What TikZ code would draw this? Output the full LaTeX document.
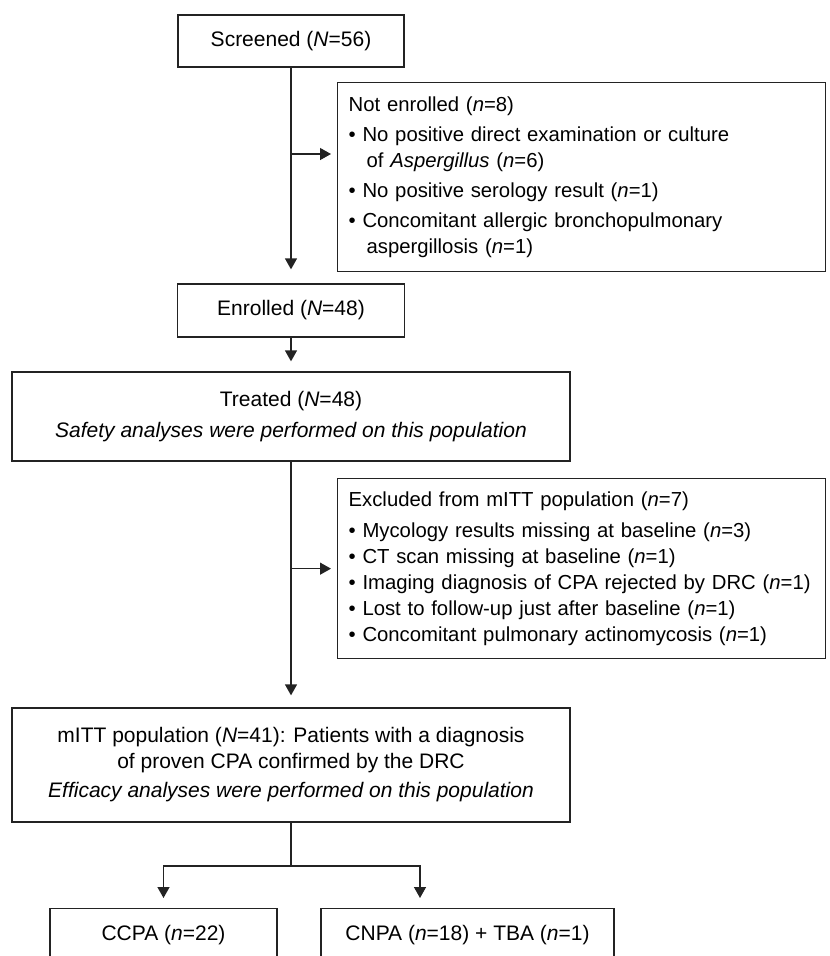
\documentclass[tikz,border=0pt]{standalone}
\usepackage{fontspec}
\setmainfont{Liberation Sans}
\usetikzlibrary{arrows.meta}
\definecolor{cline}{RGB}{35,35,35}
\tikzset{flowchart/.style={x=1pt,y=-1pt,font=\fontsize{21}{26}\selectfont},
  stagebox/.style={draw=cline,line width=1.3pt,inner sep=0pt,minimum height=52},
  notebox/.style={draw=cline,line width=1.3pt,anchor=north west,align=left,inner xsep=11pt,inner ysep=0pt,
    text width=466,font=\fontsize{20.3}{26}\selectfont},
  link/.style={cline,line width=1.3pt},
  flow/.style={link,-{Triangle[length=11pt,width=12pt]}}}

\begin{document}
\begin{tikzpicture}[flowchart]
    \useasboundingbox (0,0) rectangle (830,956);
    \clip (0,0) rectangle (830,956);
    \node[stagebox,minimum width=226] (screened) at (291,41) {Screened (\textit{N}=56)};
    \node[stagebox,minimum width=227,minimum height=53] (enrolled) at (291,310.5) {Enrolled (\textit{N}=48)};
    \node[stagebox,minimum width=558,minimum height=89,align=center] (treated) at (291,416.5)
        {Treated (\textit{N}=48)\\[5pt]\textit{Safety analyses were performed on this population}};
    \node[notebox,minimum height=189] (notenr) at (337,82) {%
        Not enrolled (\textit{n}=8)\\[4pt]
        • No positive direct examination or culture\\
        \hspace*{18pt}of \textit{Aspergillus} (\textit{n}=6)\\[4pt]
        • No positive serology result (\textit{n}=1)\\[4pt]
        • Concomitant allergic bronchopulmonary\\
        \hspace*{18pt}aspergillosis (\textit{n}=1)};
    \node[notebox,minimum height=180] (excl) at (337,478) {%
        Excluded from mITT population (\textit{n}=7)\\[5pt]
        • Mycology results missing at baseline (\textit{n}=3)\\
        • CT scan missing at baseline (\textit{n}=1)\\
        • Imaging diagnosis of CPA rejected by DRC (\textit{n}=1)\\
        • Lost to follow-up just after baseline (\textit{n}=1)\\
        • Concomitant pulmonary actinomycosis (\textit{n}=1)};
    \node[stagebox,minimum width=558,minimum height=114,align=center] (mitt) at (291,765)
        {mITT population (\textit{N}=41): Patients with a diagnosis\\
         of proven CPA confirmed by the DRC\\[3pt]
         \textit{Efficacy analyses were performed on this population}};
    \node[stagebox,minimum width=227,anchor=north] (ccpa) at (163.5,908) {CCPA (\textit{n}=22)};
    \node[stagebox,minimum width=293,anchor=north] (cnpa) at (467.5,908) {CNPA (\textit{n}=18) + TBA (\textit{n}=1)};
    % connectors
    \coordinate (split1) at (291,154);
    \coordinate (split3) at (291,866);
    \draw[flow,shorten >=14pt] (screened.south) -- (enrolled.north);
    \draw[flow,shorten >=6pt] (split1) -- (split1 -| notenr.west);
    \draw[flow,shorten >=10pt] (enrolled.south) -- (treated.north);
    \draw[flow,shorten >=12pt] (treated.south) -- (mitt.north);
    \draw[flow,shorten >=6pt] (treated.south |- excl.west) -- (excl.west);
    \draw[link] (mitt.south) -- (split3);
    \draw[flow,shorten >=10pt] (split3) -| (ccpa.north);
    \draw[flow,shorten >=10pt] (split3) -| ([xshift=-47.5pt]cnpa.north);
\end{tikzpicture}
\end{document}
